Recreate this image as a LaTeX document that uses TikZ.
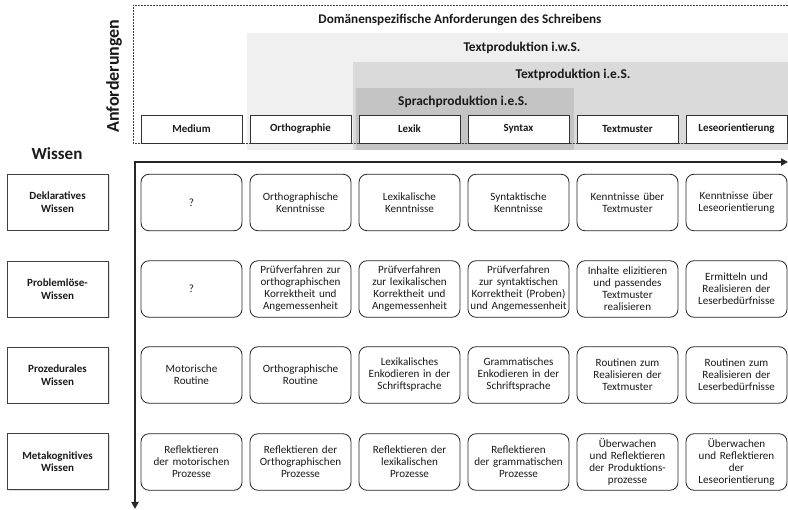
\documentclass[tikz,border=0pt]{standalone}
\usepackage{fontspec}
\setmainfont{Carlito}
\usetikzlibrary{shadows,arrows.meta}
\definecolor{bandA}{HTML}{F0F0F0}
\definecolor{bandB}{HTML}{DADADA}
\definecolor{bandC}{HTML}{C4C4C4}
\definecolor{txt}{HTML}{1A1A1A}
\begin{document}
\begin{tikzpicture}[x=1pt,y=-1pt,
  colhead/.style={draw=black!80,fill=white,line width=0.8pt,minimum width=101pt,minimum height=28pt,inner sep=1pt,font=\fontsize{10.9}{12}\selectfont\bfseries,text=txt},
  cell/.style={draw=black!85,fill=white,line width=0.8pt,rounded corners=8pt,minimum width=101pt,minimum height=56.5pt,inner sep=0pt,text width=100pt,align=center,font=\fontsize{11.1}{12}\selectfont,text=txt},
  rowhead/.style={draw=black!75,fill=white,line width=0.8pt,minimum width=101pt,minimum height=56pt,inner sep=1pt,align=center,font=\fontsize{11}{12.5}\selectfont\bfseries,text=txt,drop shadow={opacity=0.25,shadow xshift=1.5pt,shadow yshift=-1.5pt}},
  bandlabel/.style={font=\fontsize{13.4}{15}\selectfont\bfseries,text=txt,inner sep=0pt},
  axis/.style={line width=2.2pt,black!85,line join=miter}
]
\useasboundingbox (0,0) rectangle (788,510);
% bands
\fill[bandA] (247,33) rectangle (788,150);
\fill[bandB] (353,62) rectangle (788,150);
\fill[bandC] (356,88) rectangle (574,150);
% dashed outer frame
\draw[black!75,line width=0.7pt,dash pattern=on 2pt off 1pt] (788,5) -- (133,5) -- (133,143) -- (788,143);
% band labels
\node[bandlabel,font=\fontsize{13.2}{15}\selectfont\bfseries] (ldom) at (460,20) {Domänenspezifische Anforderungen des Schreibens};
\node[bandlabel] (liws) at (522,48) {Textproduktion i.w.S.};
\node[bandlabel] (lies) at (573,75) {Textproduktion i.e.S.};
\node[bandlabel] (lsp) at (463,102) {Sprachproduktion i.e.S.};
\node[font=\fontsize{18}{20}\selectfont\bfseries,text=txt,rotate=90,inner sep=0pt] (anf) at (114,76) {Anforderungen};
% column headers
\node[colhead] (hMed) at (191.5,129) {Medium};
\node[colhead] (hOrt) at (300.5,129) {Orthographie};
\node[colhead] (hLex) at (409.5,129) {Lexik};
\node[colhead] (hSyn) at (518.5,129) {Syntax};
\node[colhead] (hTxt) at (627.5,129) {Textmuster};
\node[colhead] (hLes) at (736.5,129) {Leseorientierung};
% Wissen
\node[font=\fontsize{17}{19}\selectfont\bfseries,text=txt,inner sep=0pt] (wissen) at (57,154) {Wissen};
\node[rowhead] (rDek) at (57.5,202) {Deklaratives\\Wissen};
\node[rowhead] (rPro) at (57.5,289) {Problemlöse-\\Wissen};
\node[rowhead] (rPrz) at (57.5,375) {Prozedurales\\Wissen};
\node[rowhead] (rMet) at (57.5,461.5) {Metakognitives\\Wissen};
% axes
\coordinate (O) at (135,162);
\coordinate (X) at (788,162);
\coordinate (Y) at (135,509);
\draw[axis,{Triangle[length=7pt,width=7pt]}-{Triangle[length=7pt,width=7pt]}] (Y) -- (O) -- (X);
% row 1
\node[cell] (c11) at (191.5,202.5) {?};
\node[cell] (c12) at (300.5,202.5) {Orthographische\\Kenntnisse};
\node[cell] (c13) at (409.5,202.5) {Lexikalische\\Kenntnisse};
\node[cell] (c14) at (518.5,202.5) {Syntaktische\\Kenntnisse};
\node[cell] (c15) at (627.5,202.5) {Kenntnisse über\\Textmuster};
\node[cell] (c16) at (736.5,202.5) {Kenntnisse über\\Leseorientierung};
% row 2
\node[cell] (c21) at (191.5,289) {?};
\node[cell] (c22) at (300.5,289) {Prüfverfahren zur\\orthographischen\\Korrektheit und\\Angemessenheit};
\node[cell] (c23) at (409.5,289) {Prüfverfahren\\zur lexikalischen\\Korrektheit und\\Angemessenheit};
\node[cell] (c24) at (518.5,289) {Prüfverfahren\\zur syntaktischen\\Korrektheit (Proben)\\und Angemessenheit};
\node[cell] (c25) at (627.5,289) {Inhalte elizitieren\\und passendes\\Textmuster\\realisieren};
\node[cell] (c26) at (736.5,289) {Ermitteln und\\Realisieren der\\Leserbedürfnisse};
% row 3
\node[cell] (c31) at (191.5,375) {Motorische\\Routine};
\node[cell] (c32) at (300.5,375) {Orthographische\\Routine};
\node[cell] (c33) at (409.5,375) {Lexikalisches\\Enkodieren in der\\Schriftsprache};
\node[cell] (c34) at (518.5,375) {Grammatisches\\Enkodieren in der\\Schriftsprache};
\node[cell] (c35) at (627.5,375) {Routinen zum\\Realisieren der\\Textmuster};
\node[cell] (c36) at (736.5,375) {Routinen zum\\Realisieren der\\Leserbedürfnisse};
% row 4
\node[cell] (c41) at (191.5,462) {Reflektieren\\der motorischen\\Prozesse};
\node[cell] (c42) at (300.5,462) {Reflektieren der\\Orthographischen\\Prozesse};
\node[cell] (c43) at (409.5,462) {Reflektieren der\\lexikalischen\\Prozesse};
\node[cell] (c44) at (518.5,462) {Reflektieren\\der grammatischen\\Prozesse};
\node[cell] (c45) at (627.5,462) {Überwachen\\und Reflektieren\\der Produktions-\\prozesse};
\node[cell] (c46) at (736.5,462) {Überwachen\\und Reflektieren\\der\\Leseorientierung};
\end{tikzpicture}
\end{document}
